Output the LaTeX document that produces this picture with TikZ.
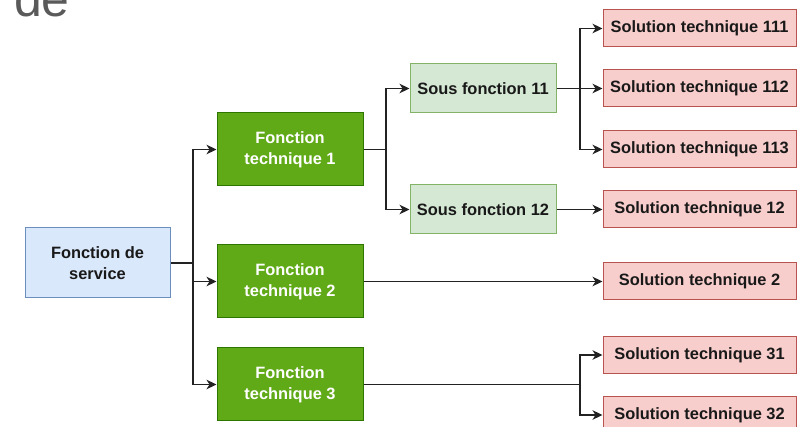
\documentclass[tikz,border=0pt]{standalone}
\usepackage{fontspec}
\setmainfont{Liberation Sans}
\usetikzlibrary{arrows.meta}
\definecolor{svcfill}{HTML}{DAE8FC}\definecolor{svcline}{HTML}{6C8EBF}
\definecolor{ftfill}{HTML}{60A917}\definecolor{ftline}{HTML}{2D7600}
\definecolor{sffill}{HTML}{D5E8D4}\definecolor{sfline}{HTML}{82B366}
\definecolor{solfill}{HTML}{F8CECC}\definecolor{solline}{HTML}{B85450}
\definecolor{wire}{HTML}{222222}
\definecolor{titlegray}{HTML}{5A5A5A}
\begin{document}
\begin{tikzpicture}[x=1pt,y=-1pt,
  box/.style={draw, line width=1pt, inner sep=0pt, align=center,
    font=\fontsize{16.4}{21}\selectfont\bfseries, text={black!90}},
  svcbox/.style={box, fill=svcfill, draw=svcline, minimum width=145pt, minimum height=70pt},
  ftbox/.style={box, fill=ftfill, draw=ftline, text=white, minimum width=146pt, minimum height=73pt},
  sfbox/.style={box, fill=sffill, draw=sfline, minimum width=146pt, minimum height=49pt},
  solbox/.style={box, fill=solfill, draw=solline, minimum width=193pt, minimum height=37pt},
  wireline/.style={draw=wire, line width=1.5pt},
  arr/.style={wireline, -{Stealth[length=10pt,width=9.5pt,inset=3pt]}}]
\useasboundingbox (0,0) rectangle (798,427);

% heading fragment
\node[anchor=base west, inner sep=0pt, font=\fontsize{50}{50}\selectfont, text=titlegray] (titre) at (14,17) {de};

% boxes
\node[svcbox] (fs) at (97.5,263) {Fonction de\\service};
\node[ftbox] (ft1) at (290,149.5) {Fonction\\technique 1};
\node[ftbox] (ft2) at (290,281.5) {Fonction\\technique 2};
\node[ftbox] (ft3) at (290,384.5) {Fonction\\technique 3};
\node[sfbox] (sf11) at (483,88.5) {Sous fonction 11};
\node[sfbox] (sf12) at (483,209.5) {Sous fonction 12};
\node[solbox] (s111) at (699.5,28.5) {Solution technique 111};
\node[solbox] (s112) at (699.5,88.5) {Solution technique 112};
\node[solbox] (s113) at (699.5,149.5) {Solution technique 113};
\node[solbox] (s12) at (699.5,209.5) {Solution technique 12};
\node[solbox] (s2) at (699.5,281.5) {Solution technique 2};
\node[solbox] (s31) at (699.5,355) {Solution technique 31};
\node[solbox] (s32) at (699.5,415) {Solution technique 32};

% junction points
\coordinate (j0) at (193,263);
\coordinate (j1) at (386,149.5);
\coordinate (j2) at (580,88.5);
\coordinate (j3) at (580,384.5);

% connectors
\draw[wireline] (fs.east) -- (j0);
\draw[arr] (j0) |- (ft1.west);
\draw[arr] (j0) |- (ft2.west);
\draw[arr] (j0) |- (ft3.west);

\draw[wireline] (ft1.east) -- (j1);
\draw[arr] (j1) |- (sf11.west);
\draw[arr] (j1) |- (sf12.west);

\draw[arr] (sf11.east) -- (s112.west);
\draw[arr] (j2) |- (s111.west);
\draw[arr] (j2) |- (s113.west);

\draw[arr] (sf12.east) -- (s12.west);
\draw[arr] (ft2.east) -- (s2.west);

\draw[wireline] (ft3.east) -- (j3);
\draw[arr] (j3) |- (s31.west);
\draw[arr] (j3) |- (s32.west);
\end{tikzpicture}
\end{document}
